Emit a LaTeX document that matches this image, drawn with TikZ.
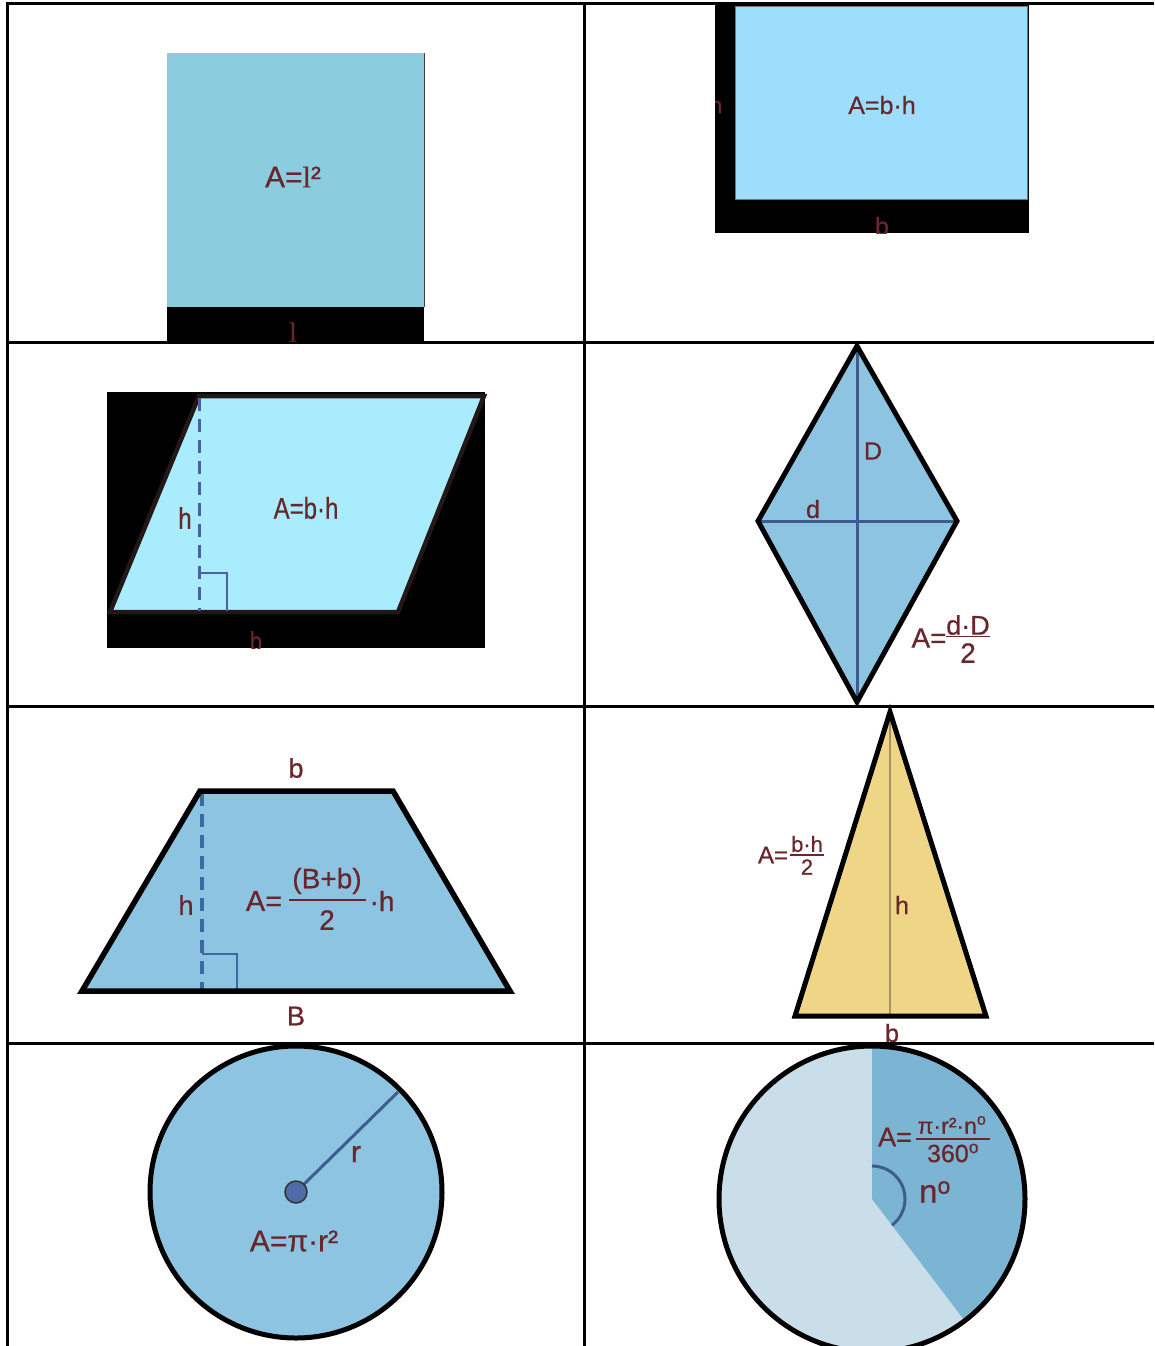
\documentclass[tikz,border=0pt]{standalone}
\usepackage{fontspec}
\setmainfont{Liberation Sans}[FakeBold=0.6]
\newfontfamily\condfont{Liberation Sans}[FakeStretch=0.8,FakeBold=0.5]
\newfontfamily\serfont{Liberation Serif}[FakeBold=0.6]
\definecolor{txt}{RGB}{105,38,43}
\definecolor{sqblue}{RGB}{139,204,223}
\definecolor{rectblue}{RGB}{156,222,252}
\definecolor{parablue}{RGB}{169,236,253}
\definecolor{shblue}{RGB}{141,196,225}
\definecolor{diagblue}{RGB}{63,92,142}
\definecolor{dashblue}{RGB}{74,95,165}
\definecolor{trdash}{RGB}{60,106,160}
\definecolor{triyel}{RGB}{239,214,134}
\definecolor{tan}{RGB}{168,144,112}
\definecolor{dotblue}{RGB}{77,108,166}
\definecolor{seclight}{RGB}{202,222,233}
\definecolor{secdark}{RGB}{123,181,211}
\definecolor{outl}{RGB}{35,24,21}
\tikzset{
  lbl/.style={text=txt, inner sep=0pt, font=\fontsize{#1}{#1}\selectfont},
  lblc/.style={text=txt, inner sep=0pt, font=\condfont\fontsize{#1}{#1}\selectfont},
  gridline/.style={line width=3pt, black},
  shapeline/.style={line width=5pt, draw=black, line join=miter},
  fracbar/.style={txt, line width=1.8pt},
}
\begin{document}
\begin{tikzpicture}[x=1pt,y=-1pt]
\useasboundingbox (0,0) rectangle (1154,1346);
\fill[white] (0,0) rectangle (1154,1346);

% table grid
\draw[gridline] (7,4) -- (1154,4);
\draw[gridline] (7,342.5) -- (1154,342.5);
\draw[gridline] (7,706) -- (1154,706);
\draw[gridline] (7,1043.5) -- (1154,1043.5);
\draw[gridline] (7,2.5) -- (7,1346);
\draw[gridline] (584,2.5) -- (584,1346);

% ---- cell 1: square
\fill[sqblue] (167,53) rectangle (424,307);
\fill[black] (167,307) rectangle (424,344);
\draw[line width=1pt, black!75] (424,53) -- (424,307);
\node[lbl=30] (sqA) at (293,177) {A={\serfont l}²};
\begin{scope}
  \clip (167,307) rectangle (424,343);
  \node[lbl=28] (sql) at (293,332) {\serfont l};
\end{scope}

% ---- cell 2: rectangle
\fill[black] (715,4) rectangle (1029,233);
\filldraw[fill=rectblue, draw=black!55, line width=1pt] (735,7) rectangle (1027,199);
\node[lbl=25] (reA) at (882,105) {A=b·h};
\begin{scope}
  \clip (715,4) rectangle (1029,233);
  \node[lbl=23] (reh) at (716,105) {h};
  \node[lbl=25] (reb) at (882,226) {b};
\end{scope}

% ---- cell 3: parallelogram
\fill[black] (107,392) rectangle (485,648);
\filldraw[fill=parablue, draw=outl, line width=4.5pt, line join=miter]
  (199,396) -- (484,396) -- (398,612) -- (110,612) -- cycle;
\draw[dashblue, line width=3pt, dash pattern=on 13pt off 8pt] (199,398) -- (199,611);
\draw[dashblue, line width=2pt] (199,573) -- (227,573) -- (227,611);
\node[lblc=30] (paA) at (306,508) {A=b·h};
\node[lblc=30] (pah) at (185,518) {h};
\begin{scope}
  \clip (107,392) rectangle (485,648);
  \node[lblc=27] (pab) at (256,641) {b};
\end{scope}

% ---- cell 4: rhombus
\fill[shblue] (857,346) -- (957,521) -- (857,702) -- (758,521) -- cycle;
\draw[diagblue, line width=3pt] (857,346) -- (857,702);
\draw[diagblue, line width=3pt] (758,521) -- (957,521);
\draw[shapeline] (857,346) -- (957,521) -- (857,702) -- (758,521) -- cycle;
\node[lbl=25] (rhD) at (873,451) {D};
\node[lbl=25] (rhd) at (813,509) {d};
\node[lbl=28] (rhA) at (929,638) {A=};
\node[lbl=27] (rhnum) at (968,625) {d·D};
\draw[fracbar] (946,636.5) -- (990,636.5);
\node[lbl=28] (rhden) at (968,653) {2};

% ---- cell 5: trapezoid
\fill[shblue] (200,791) -- (393,791) -- (510,991) -- (82,991) -- cycle;
\draw[trdash, line width=3.5pt, dash pattern=on 13pt off 8pt] (202,793) -- (202,989);
\draw[trdash, line width=2pt] (202,954) -- (237,954) -- (237,990);
\draw[shapeline, line width=5.5pt] (200,791) -- (393,791) -- (510,991) -- (82,991) -- cycle;
\node[lbl=27] (trb) at (296,768) {b};
\node[lbl=27] (trB) at (296,1016) {B};
\node[lbl=27] (trh) at (186,905) {h};
\node[lbl=29] (trA) at (264,901) {A=};
\node[lbl=28] (trnum) at (327,881) {(B+b)};
\draw[fracbar] (289,900) -- (366,900);
\node[lbl=28] (trden) at (327,920) {2};
\node[lbl=28] (trh2) at (382,901) {·h};

% ---- cell 6: triangle
\fill[triyel] (890,712) -- (986,1016) -- (795,1016) -- cycle;
\draw[tan, line width=1.5pt] (890,714) -- (890,1016);
\draw[shapeline] (890,712) -- (986,1016) -- (795,1016) -- cycle;
\node[lbl=25] (tih) at (902,905) {h};
\node[lbl=25] (tib) at (892,1033) {b};
\node[lbl=24] (tiA) at (773,855) {A=};
\node[lbl=22] (tinum) at (807,844) {b·h};
\draw[fracbar, line width=1.5pt] (790,855) -- (824,855);
\node[lbl=22] (tiden) at (807,867) {2};

% ---- cell 7: circle
\filldraw[fill=shblue, draw=black, line width=5pt] (296,1192) circle (146);
\draw[diagblue, line width=3pt] (296,1192) -- (398,1092);
\filldraw[fill=dotblue, draw=black!80, line width=1.5pt] (296,1192) circle (11);
\node[lbl=30] (cir) at (356,1154) {r};
\node[lbl=30] (ciA) at (294,1241) {A=π·r²};

% ---- cell 8: sector
\fill[seclight] (872,1199) circle (153);
\fill[secdark] (872,1199) -- ++(-90:153) arc[start angle=-90, end angle=52.7, radius=153] -- cycle;
\draw[diagblue, line width=3pt] (872,1166) arc[start angle=-90, end angle=52.7, radius=33];
\draw[black, line width=5pt] (872,1199) circle (153);
\node[lbl=27] (seA) at (895,1137) {A=};
\node[lbl=23] (senum) at (952,1125) {π·r²·n\textsuperscript{o}};
\draw[fracbar, line width=1.6pt] (916,1139) -- (990,1139);
\node[lbl=25] (seden) at (953,1153) {360\textsuperscript{o}};
\node[lbl=33] (sen) at (935,1192) {n\textsuperscript{o}};
\end{tikzpicture}
\end{document}
